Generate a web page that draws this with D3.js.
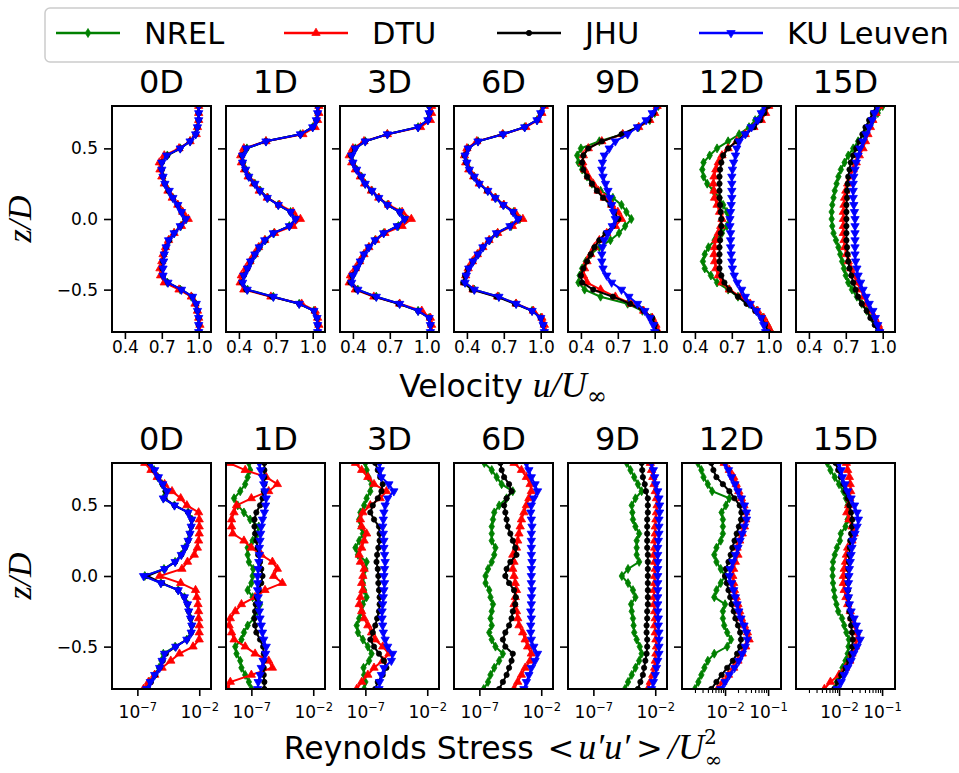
<!DOCTYPE html>
<html>
<head>
<meta charset="utf-8">
<script src="https://d3js.org/d3.v7.min.js"></script>
<style>
body { margin: 0; background: #fff; }
svg text { font-family: "DejaVu Sans", sans-serif; fill: #000; }
.math { font-family: "Liberation Serif", serif; font-style: italic; }
.upright { font-family: "DejaVu Serif", serif; font-style: normal; }
</style>
</head>
<body>
<svg id="chart" width="959" height="773"></svg>
<script>
// vertical stations z/D shared by every profile
const zLevels = [-0.80,-0.75,-0.70,-0.65,-0.60,-0.55,-0.50,-0.45,-0.40,-0.35,-0.30,-0.25,-0.20,-0.15,-0.10,-0.05,0.00,
                 0.05,0.10,0.15,0.20,0.25,0.30,0.35,0.40,0.45,0.50,0.55,0.60,0.65,0.70,0.75,0.80];
const stations = ["0D", "1D", "3D", "6D", "9D", "12D", "15D"];
const groups = ["NREL", "DTU", "JHU", "KU Leuven"];
const groupColors = ["green", "red", "black", "blue"];

// velocity u/U_inf, one array per station (0D..15D), bottom to top
const velNREL = [
  [1.00,1.00,1.00,0.99,0.975,0.94,0.85,0.745,0.705,0.705,0.71,0.72,0.735,0.76,0.80,0.855,0.90,0.865,0.83,0.79,0.755,0.725,0.71,0.70,0.70,0.745,0.85,0.93,0.975,0.99,1.00,1.00,1.00],
  [1.04,1.04,1.035,1.01,0.89,0.68,0.47,0.43,0.44,0.47,0.50,0.535,0.57,0.615,0.685,0.81,0.865,0.82,0.72,0.635,0.575,0.53,0.485,0.455,0.435,0.43,0.465,0.62,0.90,1.00,1.03,1.04,1.04],
  [1.03,1.03,1.02,0.93,0.78,0.59,0.44,0.39,0.40,0.43,0.46,0.49,0.53,0.58,0.65,0.77,0.83,0.78,0.68,0.61,0.555,0.50,0.47,0.43,0.40,0.39,0.42,0.50,0.68,0.93,1.01,1.02,1.02],
  [1.03,1.02,1.00,0.93,0.80,0.66,0.46,0.385,0.395,0.415,0.45,0.49,0.53,0.585,0.65,0.76,0.83,0.78,0.70,0.635,0.57,0.50,0.46,0.42,0.40,0.385,0.41,0.49,0.695,0.87,0.97,1.00,1.02],
  [1.02,1.00,0.97,0.90,0.78,0.56,0.43,0.38,0.39,0.41,0.44,0.48,0.55,0.64,0.71,0.76,0.81,0.77,0.73,0.66,0.56,0.49,0.45,0.41,0.38,0.37,0.40,0.55,0.74,0.87,0.96,1.00,1.03],
  [1.02,0.99,0.95,0.90,0.84,0.75,0.67,0.58,0.53,0.48,0.465,0.48,0.51,0.56,0.62,0.66,0.68,0.66,0.63,0.60,0.55,0.50,0.47,0.46,0.47,0.52,0.58,0.67,0.76,0.84,0.89,0.94,0.97],
  [0.99,0.95,0.91,0.87,0.83,0.79,0.75,0.72,0.70,0.685,0.67,0.655,0.64,0.62,0.60,0.59,0.585,0.585,0.59,0.60,0.61,0.625,0.64,0.66,0.69,0.72,0.76,0.80,0.845,0.88,0.92,0.96,1.00]
];
const velDTU = [
  [1.01,1.01,1.00,0.99,0.97,0.94,0.84,0.72,0.69,0.685,0.70,0.71,0.73,0.755,0.80,0.86,0.915,0.87,0.83,0.785,0.75,0.72,0.70,0.685,0.68,0.72,0.84,0.93,0.98,0.99,1.00,1.00,1.00],
  [1.05,1.05,1.04,1.02,0.91,0.66,0.44,0.41,0.42,0.455,0.49,0.525,0.56,0.61,0.69,0.84,0.90,0.84,0.73,0.63,0.565,0.52,0.475,0.445,0.42,0.415,0.44,0.62,0.92,1.02,1.04,1.05,1.05],
  [1.04,1.04,1.03,0.96,0.78,0.57,0.42,0.37,0.38,0.42,0.455,0.49,0.53,0.585,0.66,0.80,0.875,0.80,0.69,0.61,0.55,0.495,0.46,0.42,0.39,0.37,0.40,0.49,0.68,0.95,1.03,1.04,1.04],
  [1.04,1.03,1.01,0.94,0.80,0.65,0.45,0.38,0.39,0.41,0.445,0.485,0.53,0.58,0.65,0.77,0.855,0.79,0.70,0.63,0.57,0.50,0.455,0.415,0.39,0.38,0.40,0.48,0.69,0.88,0.98,1.01,1.03],
  [1.03,1.01,0.98,0.91,0.81,0.68,0.56,0.45,0.42,0.43,0.45,0.48,0.51,0.55,0.61,0.68,0.73,0.70,0.65,0.59,0.54,0.50,0.46,0.43,0.415,0.42,0.46,0.57,0.74,0.87,0.96,1.00,1.02],
  [1.02,0.99,0.96,0.91,0.85,0.77,0.68,0.62,0.59,0.57,0.56,0.555,0.56,0.57,0.59,0.61,0.62,0.60,0.58,0.56,0.555,0.55,0.555,0.57,0.59,0.62,0.67,0.74,0.81,0.88,0.94,0.975,1.00],
  [0.99,0.965,0.935,0.90,0.87,0.845,0.82,0.79,0.765,0.74,0.72,0.705,0.69,0.685,0.68,0.68,0.68,0.68,0.685,0.69,0.70,0.715,0.735,0.76,0.785,0.81,0.84,0.86,0.88,0.90,0.92,0.945,0.97]
];
const velJHU = [
  [1.00,1.00,1.00,0.99,0.98,0.95,0.86,0.75,0.71,0.705,0.71,0.72,0.735,0.76,0.80,0.85,0.89,0.86,0.83,0.79,0.755,0.725,0.71,0.70,0.70,0.745,0.85,0.93,0.975,0.99,1.00,1.00,1.00],
  [1.04,1.04,1.035,1.01,0.89,0.67,0.46,0.425,0.44,0.47,0.495,0.53,0.565,0.615,0.68,0.81,0.86,0.82,0.72,0.63,0.57,0.525,0.48,0.45,0.43,0.425,0.46,0.62,0.90,1.00,1.03,1.04,1.04],
  [1.03,1.03,1.02,0.93,0.77,0.58,0.43,0.38,0.395,0.43,0.46,0.49,0.53,0.58,0.65,0.76,0.82,0.78,0.68,0.61,0.55,0.50,0.465,0.43,0.40,0.385,0.415,0.50,0.68,0.93,1.01,1.02,1.02],
  [1.03,1.02,1.00,0.93,0.79,0.64,0.44,0.37,0.385,0.41,0.45,0.49,0.53,0.58,0.64,0.75,0.82,0.775,0.695,0.63,0.565,0.50,0.455,0.42,0.395,0.38,0.41,0.49,0.69,0.87,0.97,1.00,1.02],
  [1.02,1.00,0.98,0.91,0.80,0.66,0.50,0.41,0.40,0.42,0.45,0.48,0.51,0.55,0.60,0.66,0.705,0.67,0.64,0.58,0.53,0.49,0.45,0.42,0.41,0.42,0.46,0.57,0.73,0.86,0.95,0.99,1.015],
  [0.995,0.97,0.94,0.89,0.82,0.75,0.68,0.64,0.615,0.60,0.60,0.60,0.60,0.605,0.61,0.615,0.615,0.61,0.605,0.60,0.60,0.60,0.60,0.605,0.615,0.63,0.67,0.74,0.81,0.88,0.93,0.965,0.995],
  [0.96,0.935,0.90,0.87,0.83,0.80,0.78,0.76,0.745,0.73,0.72,0.715,0.71,0.705,0.705,0.705,0.705,0.705,0.705,0.71,0.71,0.715,0.72,0.73,0.74,0.76,0.785,0.81,0.835,0.86,0.89,0.92,0.95]
];
const velKU = [
  [1.00,1.00,1.00,0.99,0.98,0.95,0.86,0.75,0.71,0.71,0.715,0.72,0.735,0.755,0.80,0.85,0.895,0.86,0.83,0.79,0.76,0.725,0.71,0.70,0.70,0.74,0.85,0.93,0.975,0.99,1.00,1.00,1.00],
  [1.04,1.04,1.035,1.01,0.89,0.68,0.467,0.43,0.44,0.47,0.495,0.53,0.565,0.61,0.68,0.81,0.86,0.82,0.72,0.63,0.57,0.53,0.48,0.455,0.43,0.43,0.46,0.62,0.90,1.00,1.03,1.04,1.04],
  [1.03,1.03,1.02,0.93,0.78,0.59,0.44,0.39,0.40,0.43,0.46,0.49,0.53,0.58,0.65,0.76,0.82,0.78,0.68,0.61,0.555,0.50,0.47,0.43,0.40,0.39,0.42,0.50,0.68,0.93,1.01,1.02,1.02],
  [1.03,1.02,1.00,0.93,0.80,0.66,0.46,0.385,0.395,0.415,0.45,0.49,0.53,0.58,0.64,0.75,0.815,0.775,0.695,0.63,0.57,0.50,0.46,0.42,0.40,0.385,0.41,0.49,0.695,0.87,0.97,1.00,1.02],
  [1.00,0.99,0.96,0.92,0.86,0.79,0.73,0.65,0.61,0.58,0.57,0.57,0.575,0.59,0.62,0.655,0.68,0.665,0.65,0.635,0.62,0.60,0.58,0.57,0.575,0.59,0.63,0.68,0.78,0.86,0.93,0.98,1.015],
  [0.975,0.96,0.94,0.90,0.85,0.81,0.78,0.745,0.72,0.705,0.70,0.695,0.69,0.69,0.69,0.685,0.685,0.69,0.695,0.70,0.70,0.70,0.70,0.705,0.715,0.73,0.74,0.76,0.81,0.86,0.91,0.94,0.96],
  [0.975,0.96,0.94,0.92,0.89,0.865,0.84,0.82,0.80,0.79,0.78,0.775,0.775,0.775,0.775,0.775,0.775,0.77,0.765,0.76,0.76,0.76,0.765,0.775,0.785,0.80,0.815,0.84,0.865,0.89,0.915,0.935,0.96]
];

// Reynolds stress <u'u'>/U_inf^2 given as log10 values, one array per station
const rsLogNREL = [
  [-6.3,-6.0,-5.6,-5.25,-5.05,-4.9,-3.95,-3.0,-2.65,-2.6,-2.7,-2.85,-2.95,-3.2,-3.7,-5.1,-6.4,-4.85,-3.95,-3.45,-3.15,-2.9,-2.75,-2.65,-2.6,-2.9,-4.0,-4.9,-4.75,-5.0,-5.35,-5.65,-6.0],
  [-7.0,-7.2,-7.5,-7.8,-7.9,-8.2,-8.3,-7.8,-7.6,-7.3,-6.8,-6.5,-6.3,-6.9,-7.3,-7.0,-6.9,-6.85,-7.2,-7.3,-7.3,-6.9,-6.5,-6.4,-7.1,-7.6,-8.1,-8.4,-7.9,-7.5,-7.3,-7.1,-7.2],
  [-7.1,-7.0,-7.1,-7.15,-6.7,-6.5,-6.8,-7.2,-7.6,-7.7,-7.5,-7.3,-7.2,-6.9,-7.1,-7.2,-7.15,-7.0,-6.9,-7.6,-7.8,-7.5,-7.2,-7.35,-7.5,-7.4,-7.1,-6.9,-6.6,-6.5,-6.75,-6.9,-7.0],
  [-6.65,-6.3,-6.1,-5.8,-5.4,-5.1,-5.7,-6.0,-6.2,-6.0,-6.1,-6.0,-5.9,-6.1,-6.2,-6.5,-6.5,-6.3,-6.0,-5.8,-5.7,-6.0,-6.0,-6.0,-5.9,-5.8,-5.4,-4.8,-4.3,-5.2,-5.6,-6.0,-6.6],
  [-4.45,-4.2,-3.9,-3.6,-3.3,-3.1,-3.25,-3.5,-3.7,-3.75,-3.8,-3.9,-3.95,-3.6,-3.8,-4.2,-4.7,-4.2,-3.3,-3.5,-3.5,-3.5,-3.3,-3.6,-3.8,-3.85,-3.9,-3.6,-3.1,-3.4,-3.7,-4.0,-4.3],
  [-2.7,-2.62,-2.55,-2.48,-2.4,-2.25,-1.95,-1.86,-1.95,-2.02,-2.05,-2.05,-2.0,-2.25,-2.2,-2.1,-2.0,-2.1,-2.2,-2.25,-2.2,-2.1,-2.05,-2.05,-2.05,-2.08,-1.98,-1.9,-2.3,-2.4,-2.5,-2.55,-2.63],
  [-2.11,-2.05,-1.98,-1.92,-1.85,-1.8,-1.78,-1.77,-1.83,-1.88,-1.93,-2.02,-2.06,-2.1,-2.12,-2.14,-2.15,-2.15,-2.14,-2.1,-2.05,-1.98,-1.96,-1.85,-1.8,-1.78,-1.8,-1.84,-1.9,-2.0,-2.1,-2.2,-2.27]
];
const rsLogDTU = [
  [-6.5,-6.1,-5.6,-5.0,-4.3,-3.6,-2.5,-2.0,-2.0,-2.0,-2.05,-2.05,-2.1,-2.2,-2.3,-3.5,-5.2,-3.4,-2.95,-2.4,-2.15,-2.05,-2.0,-2.0,-2.0,-2.05,-3.0,-3.5,-4.2,-4.8,-5.4,-5.9,-6.4],
  [-8.9,-8.7,-7.0,-5.3,-5.6,-6.7,-7.5,-8.4,-8.6,-8.8,-8.7,-8.3,-7.8,-6.7,-5.9,-4.5,-5.2,-4.9,-5.3,-6.2,-7.0,-7.6,-8.5,-8.6,-8.6,-8.4,-8.2,-7.0,-5.6,-4.9,-5.8,-7.5,-8.8],
  [-7.7,-7.3,-6.8,-6.3,-5.6,-5.1,-5.6,-6.2,-6.5,-6.8,-7.1,-7.3,-7.5,-7.4,-7.2,-7.3,-7.2,-7.1,-7.4,-7.5,-7.3,-7.1,-6.9,-7.3,-7.4,-7.2,-6.6,-5.8,-5.3,-6.3,-6.8,-7.3,-7.8],
  [-4.2,-3.9,-3.6,-3.3,-2.9,-2.8,-3.1,-3.3,-3.5,-3.8,-3.9,-4.0,-4.2,-4.1,-4.0,-4.1,-4.2,-4.3,-4.2,-4.3,-4.0,-3.9,-3.8,-3.7,-3.6,-3.4,-3.2,-3.0,-2.8,-2.9,-3.2,-3.6,-4.2],
  [-2.6,-2.4,-2.2,-2.05,-2.0,-1.95,-1.9,-1.95,-2.0,-2.05,-2.0,-2.05,-2.1,-2.1,-2.1,-2.05,-2.05,-2.0,-2.05,-2.1,-2.05,-2.05,-2.0,-2.0,-1.95,-1.9,-1.85,-1.9,-2.0,-2.1,-2.2,-2.3,-2.4],
  [-2.17,-2.05,-1.92,-1.8,-1.7,-1.6,-1.52,-1.44,-1.48,-1.55,-1.62,-1.66,-1.7,-1.74,-1.78,-1.8,-1.82,-1.8,-1.76,-1.7,-1.72,-1.66,-1.6,-1.55,-1.52,-1.52,-1.56,-1.62,-1.68,-1.74,-1.8,-1.9,-2.02],
  [-2.34,-2.2,-2.0,-1.85,-1.75,-1.7,-1.62,-1.58,-1.6,-1.65,-1.7,-1.74,-1.8,-1.84,-1.88,-1.9,-1.9,-1.88,-1.85,-1.83,-1.8,-1.7,-1.65,-1.7,-1.77,-1.82,-1.78,-1.75,-1.73,-1.74,-1.76,-1.8,-1.83]
];
const rsLogJHU = [
  [-6.15,-5.9,-5.55,-5.2,-4.95,-4.7,-3.9,-3.0,-2.65,-2.6,-2.7,-2.85,-2.95,-3.2,-3.7,-5.0,-6.2,-4.8,-3.95,-3.45,-3.15,-2.9,-2.75,-2.65,-2.6,-2.9,-4.0,-4.8,-4.7,-4.95,-5.3,-5.65,-6.0],
  [-5.95,-5.95,-6.0,-6.0,-6.0,-6.0,-6.05,-6.3,-6.6,-6.7,-6.75,-6.7,-6.65,-6.55,-6.4,-6.2,-6.1,-6.2,-6.3,-6.45,-6.5,-6.6,-6.7,-6.75,-6.75,-6.6,-6.3,-6.1,-6.0,-5.95,-5.95,-5.95,-5.95],
  [-6.2,-6.0,-5.6,-5.3,-5.5,-5.9,-6.3,-6.6,-6.4,-6.2,-6.05,-5.9,-5.85,-5.85,-5.9,-5.95,-5.95,-6.0,-6.1,-6.05,-5.95,-5.85,-5.85,-5.9,-6.3,-6.6,-6.4,-6.0,-5.7,-5.6,-5.8,-6.0,-6.2],
  [-5.4,-5.1,-4.8,-4.6,-4.4,-4.3,-4.9,-5.1,-4.9,-4.6,-4.4,-4.3,-4.1,-4.05,-4.2,-4.6,-4.9,-4.8,-4.5,-4.0,-4.1,-4.3,-4.5,-4.7,-4.8,-4.9,-5.0,-4.8,-4.4,-4.6,-5.0,-5.2,-5.3],
  [-3.4,-3.2,-3.0,-2.9,-2.8,-2.7,-2.65,-2.65,-2.7,-2.7,-2.65,-2.65,-2.6,-2.6,-2.6,-2.6,-2.6,-2.6,-2.6,-2.6,-2.65,-2.65,-2.65,-2.65,-2.65,-2.6,-2.6,-2.6,-2.75,-2.85,-3.0,-3.05,-3.1],
  [-2.32,-2.2,-2.08,-1.95,-1.82,-1.72,-1.65,-1.63,-1.65,-1.7,-1.76,-1.8,-1.85,-1.88,-1.92,-1.96,-2.0,-1.98,-1.92,-1.87,-1.83,-1.78,-1.73,-1.68,-1.63,-1.62,-1.66,-1.78,-1.9,-2.05,-2.2,-2.27,-2.32],
  [-2.11,-2.03,-1.95,-1.85,-1.77,-1.72,-1.69,-1.68,-1.7,-1.72,-1.74,-1.76,-1.77,-1.78,-1.79,-1.79,-1.79,-1.78,-1.77,-1.76,-1.75,-1.74,-1.72,-1.7,-1.69,-1.72,-1.76,-1.8,-1.85,-1.9,-1.96,-2.02,-2.08]
];
const rsLogKU = [
  [-6.25,-5.95,-5.6,-5.2,-5.0,-4.8,-3.9,-3.0,-2.65,-2.6,-2.7,-2.85,-2.95,-3.2,-3.7,-5.1,-6.5,-4.8,-3.95,-3.45,-3.15,-2.9,-2.75,-2.65,-2.6,-2.9,-4.0,-4.9,-4.6,-4.95,-5.3,-5.6,-5.95],
  [-6.5,-6.45,-6.3,-6.2,-6.05,-5.85,-5.8,-6.0,-6.1,-6.2,-6.3,-6.35,-6.4,-6.45,-6.5,-6.5,-6.5,-6.45,-6.4,-6.35,-6.35,-6.3,-6.25,-6.2,-6.1,-5.95,-5.85,-5.8,-5.9,-6.0,-6.1,-6.25,-6.35],
  [-5.9,-5.85,-5.7,-5.5,-4.9,-4.8,-5.2,-5.4,-5.55,-5.6,-5.65,-5.65,-5.6,-5.55,-5.5,-5.45,-5.5,-5.45,-5.4,-5.45,-5.5,-5.5,-5.55,-5.6,-5.55,-5.5,-5.4,-5.2,-4.7,-5.1,-5.7,-5.8,-5.85],
  [-3.4,-3.2,-3.0,-2.8,-2.5,-2.3,-2.6,-2.8,-2.85,-2.85,-2.8,-2.85,-2.8,-2.8,-2.75,-2.8,-2.8,-2.8,-2.75,-2.8,-2.8,-2.8,-2.8,-2.75,-2.8,-2.85,-2.8,-2.6,-2.3,-2.5,-2.8,-3.0,-3.2],
  [-2.3,-2.15,-2.0,-1.9,-1.8,-1.7,-1.7,-1.7,-1.7,-1.75,-1.75,-1.8,-1.8,-1.8,-1.8,-1.8,-1.8,-1.8,-1.8,-1.8,-1.8,-1.75,-1.7,-1.7,-1.7,-1.65,-1.65,-1.7,-1.8,-1.95,-2.05,-2.15,-2.3],
  [-2.1,-2.0,-1.9,-1.78,-1.68,-1.6,-1.53,-1.48,-1.5,-1.56,-1.63,-1.68,-1.72,-1.76,-1.8,-1.85,-1.9,-1.88,-1.82,-1.76,-1.7,-1.65,-1.6,-1.55,-1.5,-1.5,-1.55,-1.62,-1.7,-1.77,-1.85,-1.92,-2.0],
  [-2.04,-1.95,-1.88,-1.8,-1.72,-1.66,-1.58,-1.51,-1.55,-1.6,-1.65,-1.72,-1.76,-1.78,-1.8,-1.78,-1.77,-1.76,-1.74,-1.72,-1.7,-1.68,-1.63,-1.58,-1.55,-1.58,-1.64,-1.72,-1.8,-1.86,-1.92,-1.95,-2.0]
];

const velTicks = [0.4, 0.7, 1.0];
const zTicks = [-0.5, 0.0, 0.5];
const rsTicksWide = [1e-7, 1e-2];
const rsTicksNarrow = [1e-2, 1e-1];
const rsMinorNarrow = [2e-3,3e-3,4e-3,5e-3,6e-3,7e-3,8e-3,9e-3,2e-2,3e-2,4e-2,5e-2,6e-2,7e-2,8e-2,9e-2];

// layout
const panelX0 = 112, panelStep = 114, panelW = 99, panelH = 226;
const rowTop = [106, 463];

const svg = d3.select("#chart");
svg.append("defs").append("clipPath").attr("id", "panelClip")
    .append("rect").attr("width", panelW).attr("height", panelH);

const zScale = d3.scaleLinear().domain([-0.8, 0.8]).range([panelH, 0]);
const velScale = d3.scaleLinear().domain([0.295, 1.1]).range([0, panelW]);
const rsWide = d3.scaleLog().domain([Math.pow(10, -9.05), Math.pow(10, -1.05)]).range([0, panelW]);
const rsNarrow = d3.scaleLog().domain([1e-3, Math.pow(10, -0.7)]).range([0, panelW]);

const thinDiamond = { draw(ctx, size) { const h = Math.sqrt(size) * 0.85, w = h * 0.6;
    ctx.moveTo(0, -h); ctx.lineTo(w, 0); ctx.lineTo(0, h); ctx.lineTo(-w, 0); ctx.closePath(); } };
const markerPaths = [
    d3.symbol().type(thinDiamond).size(28)(),
    d3.symbol().type(d3.symbolTriangle).size(30)(),
    d3.symbol().type(d3.symbolCircle).size(22)(),
    d3.symbol().type(d3.symbolTriangle).size(30)()
];
const markerRotate = [0, 0, 0, 180];

function drawSeries(g, xs, values, i) {
    const pts = values.map((v, k) => ({ v: v, z: zLevels[k] }));
    const line = d3.line().x(d => xs(d.v)).y(d => zScale(d.z));
    g.append("path").datum(pts)
        .attr("d", line)
        .attr("fill", "none")
        .attr("stroke", groupColors[i])
        .attr("stroke-width", 2);
    g.selectAll(null).data(pts).enter().append("path")
        .attr("d", markerPaths[i])
        .attr("transform", d => `translate(${xs(d.v)},${zScale(d.z)}) rotate(${markerRotate[i]})`)
        .attr("fill", groupColors[i])
        .attr("stroke", groupColors[i])
        .attr("stroke-width", 0.8);
}

function styleAxis(ax) {
    ax.select(".domain").remove();
    ax.selectAll(".tick line").attr("stroke", "#000").attr("stroke-width", 1.6);
    ax.selectAll(".tick text").attr("font-size", 17).attr("fill", "#000")
        .attr("font-family", "DejaVu Sans, sans-serif");
}

function powerLabels(ax) {
    ax.selectAll(".tick text").each(function (d) {
        const t = d3.select(this);
        const e = Math.round(Math.log10(d));
        t.text(null);
        t.append("tspan").text("10");
        t.append("tspan").attr("dy", -7).attr("font-size", 11.5).text((e < 0 ? "\u2212" : "") + Math.abs(e));
    });
}

function drawPanel(row, col) {
    const x0 = panelX0 + col * panelStep, y0 = rowTop[row];
    const g = svg.append("g").attr("transform", `translate(${x0},${y0})`);
    let xs;
    if (row === 0) xs = velScale;
    else xs = col >= 5 ? rsNarrow : rsWide;

    const plot = g.append("g").attr("clip-path", "url(#panelClip)");
    const sets = row === 0 ? [velNREL, velDTU, velJHU, velKU] : [rsLogNREL, rsLogDTU, rsLogJHU, rsLogKU];
    sets.forEach((set, i) => {
        const vals = row === 0 ? set[col] : set[col].map(e => Math.pow(10, e));
        drawSeries(plot, xs, vals, i);
    });

    // y axis
    const yAx = g.append("g").call(d3.axisLeft(zScale).tickValues(zTicks).tickSize(8).tickPadding(6)
        .tickFormat(col === 0 ? d3.format(".1f") : ""));
    styleAxis(yAx);

    // x axis
    const xAx = g.append("g").attr("transform", `translate(0,${panelH})`);
    if (row === 0) {
        xAx.call(d3.axisBottom(xs).tickValues(velTicks).tickSize(7).tickPadding(2).tickFormat(d3.format(".1f")));
        styleAxis(xAx);
    } else {
        if (col >= 5) {
            const mAx = g.append("g").attr("transform", `translate(0,${panelH})`)
                .call(d3.axisBottom(xs).tickValues(rsMinorNarrow).tickSize(4).tickFormat(""));
            mAx.select(".domain").remove();
            mAx.selectAll(".tick line").attr("stroke", "#000").attr("stroke-width", 1.1);
        }
        xAx.call(d3.axisBottom(xs).tickValues(col >= 5 ? rsTicksNarrow : rsTicksWide).tickSize(7).tickPadding(10));
        styleAxis(xAx);
        powerLabels(xAx);
    }

    g.append("rect").attr("width", panelW).attr("height", panelH)
        .attr("fill", "none").attr("stroke", "#000").attr("stroke-width", 2);

    g.append("text").attr("x", panelW / 2).attr("y", -13)
        .attr("text-anchor", "middle").attr("font-size", 32).text(stations[col]);
}

[0, 1].forEach(row => stations.forEach((s, col) => drawPanel(row, col)));

// y labels
[219, 576].forEach(cy => {
    svg.append("text").attr("class", "math")
        .attr("transform", `translate(31,${cy}) rotate(-90)`)
        .attr("text-anchor", "middle").attr("font-size", 34).text("z/D");
});

// x labels
const velLabel = svg.append("text").attr("x", 503).attr("y", 397).attr("text-anchor", "middle").attr("font-size", 31.5);
velLabel.append("tspan").text("Velocity ");
velLabel.append("tspan").attr("class", "math").attr("font-size", 36).text("u/U");
velLabel.append("tspan").attr("class", "upright").attr("font-size", 24).attr("dy", 7).text("\u221e");

const rsLabel = svg.append("text").attr("x", 503).attr("y", 759).attr("text-anchor", "middle").attr("font-size", 31.5);
rsLabel.append("tspan").text("Reynolds Stress");
rsLabel.append("tspan").attr("class", "upright").attr("font-size", 32).attr("dx", 14).text("<");
rsLabel.append("tspan").attr("class", "math").attr("font-size", 36).attr("dx", 4).text("u\u2032u\u2032");
rsLabel.append("tspan").attr("class", "upright").attr("font-size", 32).attr("dx", 6).text(">");
rsLabel.append("tspan").attr("class", "math").attr("font-size", 36).attr("dx", 5).text("/U");
rsLabel.append("tspan").attr("class", "upright").attr("font-size", 20).attr("dy", -15).text("2");
rsLabel.append("tspan").attr("class", "upright").attr("font-size", 21).attr("dx", -12).attr("dy", 23).text("\u221e");

// legend
const legend = svg.append("g");
legend.append("rect").attr("x", 45).attr("y", 8).attr("width", 940).attr("height", 54).attr("rx", 5)
    .attr("fill", "#fff").attr("stroke", "#cccccc").attr("stroke-width", 1.5);
const legendLineX = [56, 284, 497, 699];
groups.forEach((name, i) => {
    const lx = legendLineX[i];
    legend.append("line").attr("x1", lx).attr("x2", lx + 64).attr("y1", 33).attr("y2", 33)
        .attr("stroke", groupColors[i]).attr("stroke-width", 2.6);
    legend.append("path").attr("d", markerPaths[i])
        .attr("transform", `translate(${lx + 32},33) rotate(${markerRotate[i]})`)
        .attr("fill", groupColors[i]).attr("stroke", groupColors[i]).attr("stroke-width", 0.8);
    legend.append("text").attr("x", lx + 88).attr("y", 44).attr("font-size", 30.5).text(name);
});
</script>
</body>
</html>
